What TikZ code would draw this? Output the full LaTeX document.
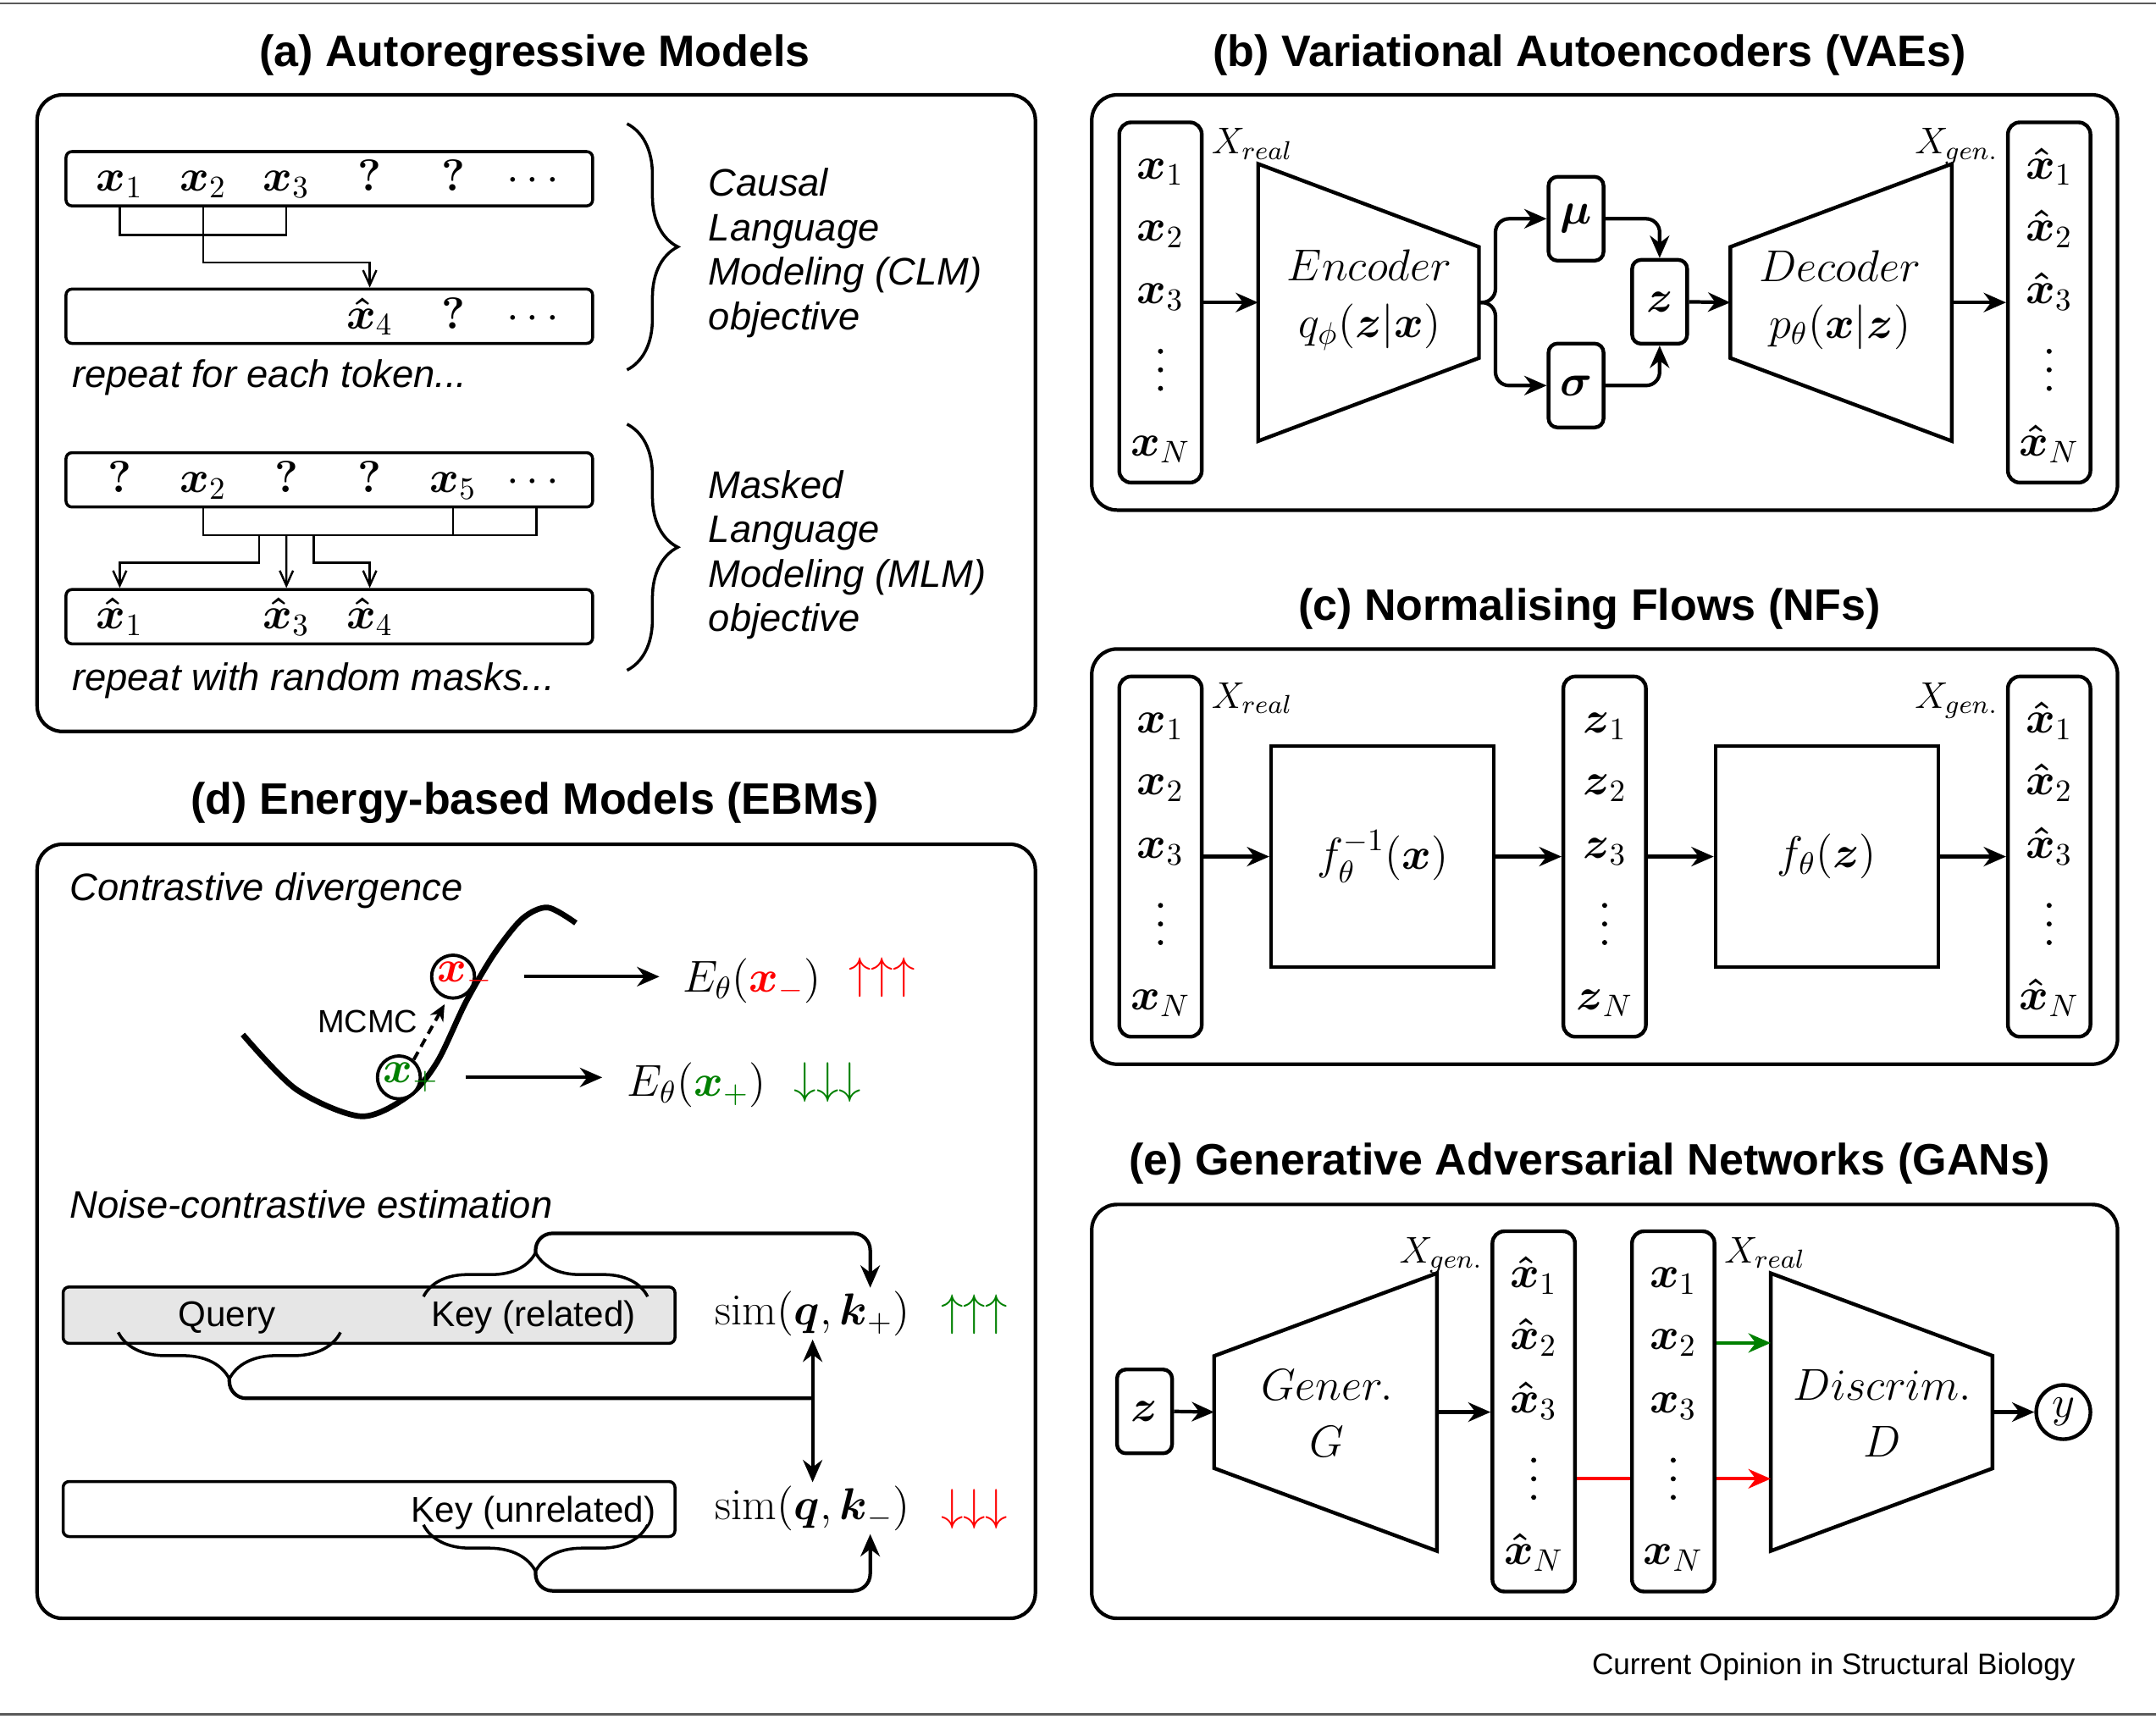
\documentclass[tikz,border=0pt]{standalone}
\usepackage{fix-cm}
\usepackage{amsmath}
\usepackage{amssymb}
\usepackage{mathtools}
\usepackage{fontspec}
\setsansfont{Liberation Sans}
\usepackage{tikz}
\usetikzlibrary{arrows.meta,calc,decorations.pathreplacing}

\definecolor{dgreen}{RGB}{0,128,0}
\definecolor{keygray}{RGB}{230,230,230}
\newcommand{\ux}{0.016237cm}
\newcommand{\vx}{\boldsymbol{x}}
\newcommand{\hx}{\boldsymbol{\hat{x}}}

\tikzset{
	panel/.style={draw, line width=1.2pt, rounded corners=0.3cm, inner sep=0},
	ptitle/.style={font=\sffamily\bfseries\fontsize{14.8}{17}\selectfont},
	stxt/.style={font=\sffamily\itshape\fontsize{12.9}{14.9}\selectfont, inner sep=0, align=left},
	ntxt/.style={font=\sffamily\fontsize{12}{14}\selectfont, inner sep=0},
	mth/.style={font=\fontsize{15}{19}\selectfont, inner sep=1pt},
	lbl/.style={font=\fontsize{12.5}{15}\selectfont, inner sep=2.5pt},
	seq/.style={draw, line width=1pt, rounded corners=2pt, minimum width=383*\ux, minimum height=39.5*\ux, inner sep=0},
	col/.style={draw, line width=1.25pt, rounded corners=4pt, minimum width=60*\ux, minimum height=262*\ux, inner sep=0},
	sbox/.style={draw, line width=1.25pt, rounded corners=3pt, minimum width=40*\ux, minimum height=61*\ux, inner sep=0, font=\fontsize{15}{19}\selectfont},
	fbox/.style={draw, line width=1.25pt, minimum width=162*\ux, minimum height=161*\ux, font=\fontsize{15}{19}\selectfont},
	trap/.style={draw, line width=1.25pt},
	arr/.style={line width=1.2pt, -{Stealth[length=7.5pt,width=6.5pt]}},
	arr2/.style={line width=1.2pt, {Stealth[length=7.5pt,width=6.5pt]}-{Stealth[length=7.5pt,width=6.5pt]}},
	dasharr/.style={line width=1.1pt, dash pattern=on 3pt off 2pt, -{Stealth[length=5.5pt,width=5pt]}},
	thinarr/.style={line width=0.7pt, -{Straight Barb[length=5pt,width=4.5pt]}},
	conn/.style={line width=0.7pt},
	nline/.style={line width=1.2pt},
	brc/.style={decorate, decoration={brace, amplitude=#1}, line width=1pt},
	rulegray/.style={line width=0.8pt, black!65}
}

\newcommand{\tokcol}[7]{%
	\node[col] (#1) at (#2,#3) {};
	\node[mth, anchor=base] (#1-1) at ($(#1)+(0,-90)$) {$#4$};
	\node[mth, anchor=base] (#1-2) at ($(#1)+(0,-45)$) {$#5$};
	\node[mth, anchor=base] (#1-3) at ($(#1)+(0,1)$) {$#6$};
	\coordinate (#1-4) at ($(#1)+(0,49)$);
	\foreach \dy in {-13.5,0,13.5}
		\fill ($(#1-4)+(0,\dy)$) circle (0.85pt);
	\node[mth, anchor=base] (#1-5) at ($(#1)+(0,111.5)$) {$#7$};
}

\begin{document}
\begin{tikzpicture}[x=\ux, y=-\ux]
	\useasboundingbox (0,0) rectangle (1568,1250);
	\draw[rulegray] (0,2.5) -- (1568,2.5);
	\draw[rulegray] (0,1247) -- (1568,1247);

	\node[panel, minimum width=726*\ux, minimum height=463*\ux] (pa) at (390,300.5) {};
	\node[ptitle] (ta) at (389,40) {(a) Autoregressive Models};
	\node[seq] (clmin) at (239.5,130) {};
	\node[seq] (clmout) at (239.5,230) {};
	\node[seq] (mlmin) at (239.5,349) {};
	\node[seq] (mlmout) at (239.5,448.5) {};
	\foreach \tk [count=\i] in {\vx_1,\vx_2,\vx_3,\boldsymbol{?},\boldsymbol{?},\cdots}
		\node[mth, anchor=base] (ci\i) at (26.5+60.6*\i,139) {$\tk$};
	\node[mth, anchor=base] (co4) at (268.9,239) {$\hx_4$};
	\node[mth, anchor=base] (co5) at (329.5,239) {$\boldsymbol{?}$};
	\node[mth, anchor=base] (co6) at (390.1,239) {$\cdots$};
	\foreach \tk [count=\i] in {\boldsymbol{?},\vx_2,\boldsymbol{?},\boldsymbol{?},\vx_5,\cdots}
		\node[mth, anchor=base] (mi\i) at (26.5+60.6*\i,358) {$\tk$};
	\node[mth, anchor=base] (mo1) at (87.1,457.5) {$\hx_1$};
	\node[mth, anchor=base] (mo3) at (208.3,457.5) {$\hx_3$};
	\node[mth, anchor=base] (mo4) at (268.9,457.5) {$\hx_4$};
	\draw[conn] (ci1 |- clmin.south) -- ++(0,20) -| (ci3 |- clmin.south);
	\draw[thinarr] (ci2 |- clmin.south) -- ++(0,40) -| (co4 |- clmout.north);
	\draw[conn] (mi2 |- mlmin.south) -- ++(0,19.5) -| (mi6 |- mlmin.south);
	\draw[conn] (mi5 |- mlmin.south) -- ++(0,19.5);
	\coordinate (mbus) at ($(mi3 |- mlmin.south)+(0,19.5)$);
	\draw[thinarr] (mbus) ++(-20,0) -- ++(0,20) -| (mo1 |- mlmout.north);
	\draw[thinarr] (mbus) -- (mo3 |- mlmout.north);
	\draw[thinarr] (mbus) ++(20,0) -- ++(0,20) -| (mo4 |- mlmout.north);
	\node[stxt, anchor=west] (rep1) at (52,274.5) {repeat for each token...};
	\node[stxt, anchor=west] (rep2) at (52,495) {repeat with random masks...};
	\draw[brc=0.6cm] (456,90) -- (456,269);
	\draw[brc=0.6cm] (456,308.5) -- (456,487.5);
	\node[stxt, anchor=west] (clmtxt) at (515,184) {Causal\\Language\\Modeling (CLM)\\objective};
	\node[stxt, anchor=west] (mlmtxt) at (515,403.5) {Masked\\Language\\Modeling (MLM)\\objective};

	\node[panel, minimum width=746*\ux, minimum height=302*\ux] (pb) at (1167,220) {};
	\node[ptitle] (tb) at (1156,40) {(b) Variational Autoencoders (VAEs)};
	\tokcol{bx}{844}{220}{\vx_1}{\vx_2}{\vx_3}{\vx_N}
	\tokcol{bxh}{1490.3}{220}{\hx_1}{\hx_2}{\hx_3}{\hx_N}
	\node[lbl, anchor=north west] (bxlab) at (bx.north east) {$X_{real}$};
	\node[lbl, anchor=north east] (bxhlab) at (bxh.north west) {$X_{gen.}$};
	\coordinate (enc1) at (915,119.2);
	\coordinate (enc2) at (1075.6,179.6);
	\coordinate (enc3) at (1075.6,260.4);
	\coordinate (enc4) at (915,320.8);
	\coordinate (encin) at (915,220);
	\coordinate (encout) at (1075.6,220);
	\draw[trap] (enc1) -- (enc2) -- (enc3) -- (enc4) -- cycle;
	\coordinate (dec1) at (1258.4,179.6);
	\coordinate (dec2) at (1419.5,119.2);
	\coordinate (dec3) at (1419.5,320.8);
	\coordinate (dec4) at (1258.4,260.4);
	\coordinate (decin) at (1258.4,220);
	\coordinate (decout) at (1419.5,220);
	\draw[trap] (dec1) -- (dec2) -- (dec3) -- (dec4) -- cycle;
	\node[mth, align=center] (enclab) at (996,218) {$Encoder$\\$q_\phi(\boldsymbol{z}|\vx)$};
	\node[mth, align=center] (declab) at (1338,218) {$Decoder$\\$p_\theta(\vx|\boldsymbol{z})$};
	\node[sbox] (mu) at (1146.2,159.1) {$\boldsymbol{\mu}$};
	\node[sbox] (sig) at (1146.2,280.4) {$\boldsymbol{\sigma}$};
	\node[sbox] (z) at (1207,219.5) {$\boldsymbol{z}$};
	\draw[arr] (bx.east |- encin) -- (encin);
	\draw[arr, rounded corners=0.16cm] (encout) -- ++(12,0) |- (mu.west);
	\draw[arr, rounded corners=0.16cm] (encout) -- ++(12,0) |- (sig.west);
	\draw[arr, rounded corners=0.16cm] (mu.east) -| (z.north);
	\draw[arr, rounded corners=0.16cm] (sig.east) -| (z.south);
	\draw[arr] (z.east) -- (decin);
	\draw[arr] (decout) -- (bxh.west |- decout);

	\node[panel, minimum width=746*\ux, minimum height=302*\ux] (pc) at (1167,623) {};
	\node[ptitle] (tc) at (1156,443) {(c) Normalising Flows (NFs)};
	\tokcol{cx}{844}{623}{\vx_1}{\vx_2}{\vx_3}{\vx_N}
	\tokcol{cz}{1167}{623}{\boldsymbol{z}_1}{\boldsymbol{z}_2}{\boldsymbol{z}_3}{\boldsymbol{z}_N}
	\tokcol{cxh}{1490.3}{623}{\hx_1}{\hx_2}{\hx_3}{\hx_N}
	\node[lbl, anchor=north west] (cxlab) at (cx.north east) {$X_{real}$};
	\node[lbl, anchor=north east] (cxhlab) at (cxh.north west) {$X_{gen.}$};
	\node[fbox] (finv) at (1005.5,623) {$f_\theta^{-1}(\vx)$};
	\node[fbox] (fth) at (1328.7,623) {$f_\theta(\boldsymbol{z})$};
	\draw[arr] (cx.east |- finv) -- (finv.west);
	\draw[arr] (finv.east) -- (cz.west |- finv);
	\draw[arr] (cz.east |- fth) -- (fth.west);
	\draw[arr] (fth.east) -- (cxh.west |- fth);

	\node[panel, minimum width=746*\ux, minimum height=301*\ux] (pe) at (1167,1026.5) {};
	\node[ptitle] (te) at (1156,846) {(e) Generative Adversarial Networks (GANs)};
	\node[sbox] (ez) at (832.4,1026.5) {$\boldsymbol{z}$};
	\coordinate (gen1) at (883,986.2);
	\coordinate (gen2) at (1045,926);
	\coordinate (gen3) at (1045,1128);
	\coordinate (gen4) at (883,1067.8);
	\coordinate (genin) at (883,1027);
	\coordinate (genout) at (1045,1027);
	\draw[trap] (gen1) -- (gen2) -- (gen3) -- (gen4) -- cycle;
	\coordinate (dis1) at (1287.8,926);
	\coordinate (dis2) at (1449,986);
	\coordinate (dis3) at (1449,1068);
	\coordinate (dis4) at (1287.8,1128);
	\coordinate (disin) at (1287.8,1027);
	\coordinate (disout) at (1449,1027);
	\draw[trap] (dis1) -- (dis2) -- (dis3) -- (dis4) -- cycle;
	\node[mth, align=center] (genlab) at (965,1028) {$Gener.$\\$G$};
	\node[mth, align=center] (dislab) at (1369,1028) {$Discrim.$\\$D$};
	\tokcol{egx}{1115.4}{1026.5}{\hx_1}{\hx_2}{\hx_3}{\hx_N}
	\tokcol{erx}{1216.9}{1026.5}{\vx_1}{\vx_2}{\vx_3}{\vx_N}
	\node[lbl, anchor=north east] (egxlab) at (egx.north west) {$X_{gen.}$};
	\node[lbl, anchor=north west] (erxlab) at (erx.north east) {$X_{real}$};
	\node[circle, draw, line width=1.25pt, minimum size=39.4*\ux, inner sep=0, font=\fontsize{15}{19}\selectfont] (ey) at (1500.6,1027) {$y$};
	\draw[arr] (ez.east) -- (genin);
	\draw[arr] (genout) -- (egx.west |- genout);
	\draw[arr, dgreen] (erx.east |- erx-2) -- (disin |- erx-2);
	\draw[line width=1.2pt, red] (egx.east |- erx-4) -- (erx.west |- erx-4);
	\draw[arr, red] (erx.east |- erx-4) -- (disin |- erx-4);
	\draw[arr] (disout) -- (ey);

	\node[panel, minimum width=726*\ux, minimum height=563*\ux] (pd) at (390,895.5) {};
	\node[ptitle] (td) at (389,584) {(d) Energy-based Models (EBMs)};
	\node[stxt, anchor=west] (cdtxt) at (50.6,648) {Contrastive divergence};
	\draw[line width=1.9pt] plot[smooth] coordinates {(176.6,752.4) (215.6,792.4) (262.8,811.9) (297.7,796.5) (318.2,771.9) (338.8,728.8) (359.3,693.9) (379.8,668.2) (398.3,660) (418.8,671.3)};
	\node[circle, draw, fill=white, line width=1.1pt, minimum size=31.2*\ux, inner sep=0, font=\fontsize{15}{19}\selectfont, text=red] (cdneg) at (329.5,710.3) {$\vx_{\mathrlap{-}}$};
	\node[circle, draw, fill=white, line width=1.1pt, minimum size=31.2*\ux, inner sep=0, font=\fontsize{15}{19}\selectfont, text=dgreen] (cdpos) at (290.1,783.6) {$\vx_{\mathrlap{+}}$};
	\draw[dasharr, shorten >=2pt] (cdpos.50) -- (cdneg.256);
	\node[font=\sffamily\fontsize{10.8}{13}\selectfont, inner sep=0] (mcmc) at (267.5,743) {MCMC};
	\node[mth, anchor=base] (eneg) at (547,721.5) {$E_\theta(\textcolor{red}{\vx_-})$};
	\node[mth, anchor=base] (epos) at (506.7,797.5) {$E_\theta(\textcolor{dgreen}{\vx_+})$};
	\node[mth, text=red] (upr) at (641.5,711) {$\uparrow\uparrow\uparrow$};
	\node[mth, text=dgreen] (dng) at (602,787.5) {$\downarrow\downarrow\downarrow$};
	\draw[arr, shorten <=0.563cm, shorten >=0.234cm] (cdneg.east) -- (eneg.west |- cdneg);
	\draw[arr, shorten <=0.515cm, shorten >=0.255cm] (cdpos.east) -- (epos.west |- cdpos);

	\node[stxt, anchor=west] (ncetxt) at (50.6,876) {Noise-contrastive estimation};
	\node[draw, fill=keygray, line width=1pt, rounded corners=2pt, minimum width=445*\ux, minimum height=41*\ux, inner sep=0] (qkbox) at (268.4,956.5) {};
	\node[draw, line width=1pt, rounded corners=2pt, minimum width=445*\ux, minimum height=40*\ux, inner sep=0] (kubox) at (268.4,1097.5) {};
	\node[ntxt, anchor=base] (qry) at (165,964.6) {Query};
	\node[ntxt, anchor=base] (keyrel) at (388,964.6) {Key (related)};
	\node[ntxt, anchor=base] (keyun) at (388,1107) {Key (unrelated)};
	\node[mth, anchor=base] (simp) at (591,963.5) {$\mathrm{sim}(\boldsymbol{q},\boldsymbol{k}_+)$};
	\node[mth, anchor=base] (simn) at (591,1105) {$\mathrm{sim}(\boldsymbol{q},\boldsymbol{k}_-)$};
	\node[mth, text=dgreen] (upg) at (708.7,956) {$\uparrow\uparrow\uparrow$};
	\node[mth, text=red] (dnr) at (708.7,1097.8) {$\downarrow\downarrow\downarrow$};
	\draw[brc=0.52cm] (308,943) -- (471,943);
	\coordinate (krtip) at (389.5,911);
	\draw[arr, rounded corners=0.2cm] (krtip) -- ++(0,-14) -| ([xshift=0.68cm]simp.north);
	\draw[brc=0.55cm] (247.6,969) -- (86,969);
	\coordinate (qtip) at (166.8,1003);
	\coordinate (qjoin) at (591,1017);
	\draw[nline, rounded corners=0.2cm] (qtip) |- (qjoin);
	\draw[arr2] (simp.south) -- (simn.north);
	\draw[brc=0.55cm] (471,1109) -- (308,1109);
	\coordinate (kutip) at (389.5,1143);
	\draw[arr, rounded corners=0.2cm] (kutip) -- ++(0,14) -| ([xshift=0.68cm]simn.south);

	\node[font=\sffamily\fontsize{10}{12}\selectfont] (src) at (1333.5,1212) {Current Opinion in Structural Biology};
\end{tikzpicture}
\end{document}
